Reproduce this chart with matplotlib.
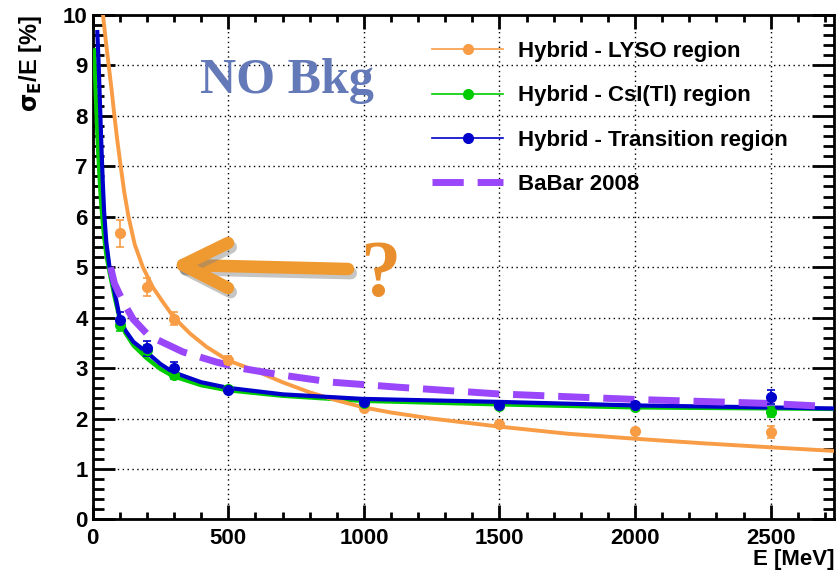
import matplotlib.pyplot as plt
import matplotlib.patheffects as pe
from matplotlib.lines import Line2D
from matplotlib.ticker import MultipleLocator

# measured points
e_pts = [100, 200, 300, 500, 1000, 1500, 2000, 2500]
lyso_y = [5.67, 4.61, 3.98, 3.16, 2.20, 1.90, 1.75, 1.74]
lyso_err = [0.27, 0.18, 0.13, 0.08, 0.06, 0.06, 0.05, 0.12]
csi_y = [3.85, 3.35, 2.86, 2.58, 2.30, 2.25, 2.22, 2.13]
csi_err = [0.12, 0.10, 0.08, 0.06, 0.05, 0.05, 0.05, 0.10]
trans_y = [3.96, 3.39, 3.01, 2.57, 2.33, 2.27, 2.27, 2.43]
trans_err = [0.15, 0.15, 0.12, 0.06, 0.05, 0.07, 0.06, 0.14]

# fit curves
lyso_fit_e = [38, 48, 59, 70, 80, 91, 102, 116, 132, 155, 185, 222, 260, 300, 360, 420,
              500, 600, 700, 800, 900, 1000, 1100, 1250, 1500, 1750, 2000, 2250, 2500, 2730]
lyso_fit_y = [10.0, 9.5, 9.0, 8.5, 8.0, 7.5, 7.05, 6.5, 6.0, 5.45, 5.0, 4.6, 4.3, 4.0,
              3.68, 3.42, 3.15, 2.95, 2.72, 2.52, 2.36, 2.22, 2.12, 2.0, 1.84, 1.7, 1.6,
              1.51, 1.43, 1.36]
csi_fit_e = [6, 10, 15, 20, 25, 30, 36, 42, 50, 62, 81, 99, 120, 150, 198, 250, 296, 400,
             498, 700, 995, 1500, 2000, 2500, 2730]
csi_fit_y = [9.3, 8.6, 7.9, 7.3, 6.8, 6.35, 5.95, 5.6, 5.25, 4.9, 4.4, 3.98, 3.7, 3.45,
             3.2, 2.98, 2.84, 2.66, 2.56, 2.45, 2.35, 2.28, 2.22, 2.2, 2.19]
trans_fit_e = [17, 22, 27, 32, 37, 42, 50, 62, 81, 99, 120, 150, 198, 250, 296, 400, 498,
               700, 995, 1500, 2000, 2500, 2730]
trans_fit_y = [9.66, 9.0, 8.2, 7.4, 6.7, 6.1, 5.5, 5.0, 4.5, 4.02, 3.75, 3.52, 3.32, 3.08,
               2.92, 2.72, 2.61, 2.48, 2.39, 2.33, 2.26, 2.22, 2.2]
babar_e = [66, 80, 100, 117, 149, 200, 235, 333, 456, 554, 700, 884, 1130, 1491, 1995,
           2490, 2710]
babar_y = [5.0, 4.68, 4.45, 4.27, 3.97, 3.68, 3.57, 3.32, 3.12, 2.99, 2.86, 2.72, 2.62,
           2.49, 2.38, 2.30, 2.24]

c_orange = '#f89c45'
c_green = '#00cc00'
c_blue = '#0000cc'
c_purple = '#9a46fa'

plt.rcParams['font.family'] = ['Liberation Sans', 'DejaVu Sans']
plt.rcParams['font.weight'] = 'bold'
plt.rcParams['axes.labelweight'] = 'bold'

fig = plt.figure(figsize=(8.39, 5.74), dpi=100)
ax = fig.add_axes([0.1105, 0.095, 0.884, 0.879])

ax.plot(csi_fit_e, csi_fit_y, color=c_green, lw=3, zorder=3)
ax.plot(lyso_fit_e, lyso_fit_y, color=c_orange, lw=2.8, zorder=3)
ax.plot(trans_fit_e, trans_fit_y, color=c_blue, lw=3, zorder=4)
ax.plot(babar_e, babar_y, color=c_purple, lw=5, ls=(0, (4.5, 2)), zorder=5)

for y, err, c in [(lyso_y, lyso_err, c_orange), (csi_y, csi_err, c_green),
                  (trans_y, trans_err, c_blue)]:
    ax.errorbar(e_pts, y, yerr=err, fmt='o', color=c, ms=7, elinewidth=1.2,
                capsize=3, capthick=1.2, zorder=6)

ax.set_xlim(0, 2735)
ax.set_ylim(0, 10)
ax.xaxis.set_major_locator(MultipleLocator(500))
ax.xaxis.set_minor_locator(MultipleLocator(100))
ax.yaxis.set_major_locator(MultipleLocator(1))
ax.yaxis.set_minor_locator(MultipleLocator(0.2))
ax.tick_params(which='both', direction='in', top=True, right=True, width=2,
               labelsize=16)
ax.tick_params(axis='y', which='major', length=16)
ax.tick_params(axis='y', which='minor', length=8)
ax.tick_params(axis='x', which='major', length=10, pad=6)
ax.tick_params(axis='x', which='minor', length=5)
for s in ax.spines.values():
    s.set_linewidth(2)
ax.grid(True, which='major', color='black', ls=(0, (1, 2.5)), lw=1)

ax.set_xlabel('E [MeV]', loc='right', fontsize=16, labelpad=0)
ax.set_ylabel(r'$\mathbf{\sigma_E}$/E [%]', loc='top', fontsize=17, labelpad=14)

handles = [
    Line2D([], [], color=c_orange, lw=1.2, marker='o', ms=7),
    Line2D([], [], color=c_green, lw=1.2, marker='o', ms=7),
    Line2D([], [], color=c_blue, lw=1.2, marker='o', ms=7),
    Line2D([], [], color=c_purple, lw=5, ls=(0, (4.5, 2))),
]
labels = ['Hybrid - LYSO region', 'Hybrid - CsI(Tl) region',
          'Hybrid - Transition region', 'BaBar 2008']
leg = ax.legend(handles, labels, loc='upper left',
                bbox_to_anchor=(432 / 839, 1 - 41 / 574), bbox_transform=fig.transFigure,
                frameon=False, fontsize=16, handlelength=3.2, handletextpad=0.68,
                labelspacing=1.05, borderpad=0, borderaxespad=0)
leg.set_zorder(10)

# annotations
fig.text(200 / 839, 1 - 93 / 574, 'NO Bkg', family='Liberation Serif', weight='bold',
         fontsize=36, color='#6479b8', ha='left', va='baseline')
shadow = [pe.SimpleLineShadow(offset=(2, -3), shadow_color='gray', alpha=0.45),
          pe.Normal()]
arrow_kw = dict(color='#ee9a30', lw=9, solid_capstyle='round', transform=None,
                path_effects=shadow)
def fpx(x, y):
    return x, 574 - y
for (x0, y0), (x1, y1) in [((348, 269), (183, 265)), ((183, 265), (228, 243)),
                           ((183, 265), (228, 288))]:
    a, b = fpx(x0, y0)
    c, d = fpx(x1, y1)
    fig.add_artist(Line2D([a, c], [b, d], **arrow_kw))
fig.text(380 / 839, 1 - 296 / 574, '?', family='Liberation Serif', weight='bold',
         fontsize=58, color='#e98e2c', ha='center', va='baseline')

fig.savefig('out.png', dpi=100)
